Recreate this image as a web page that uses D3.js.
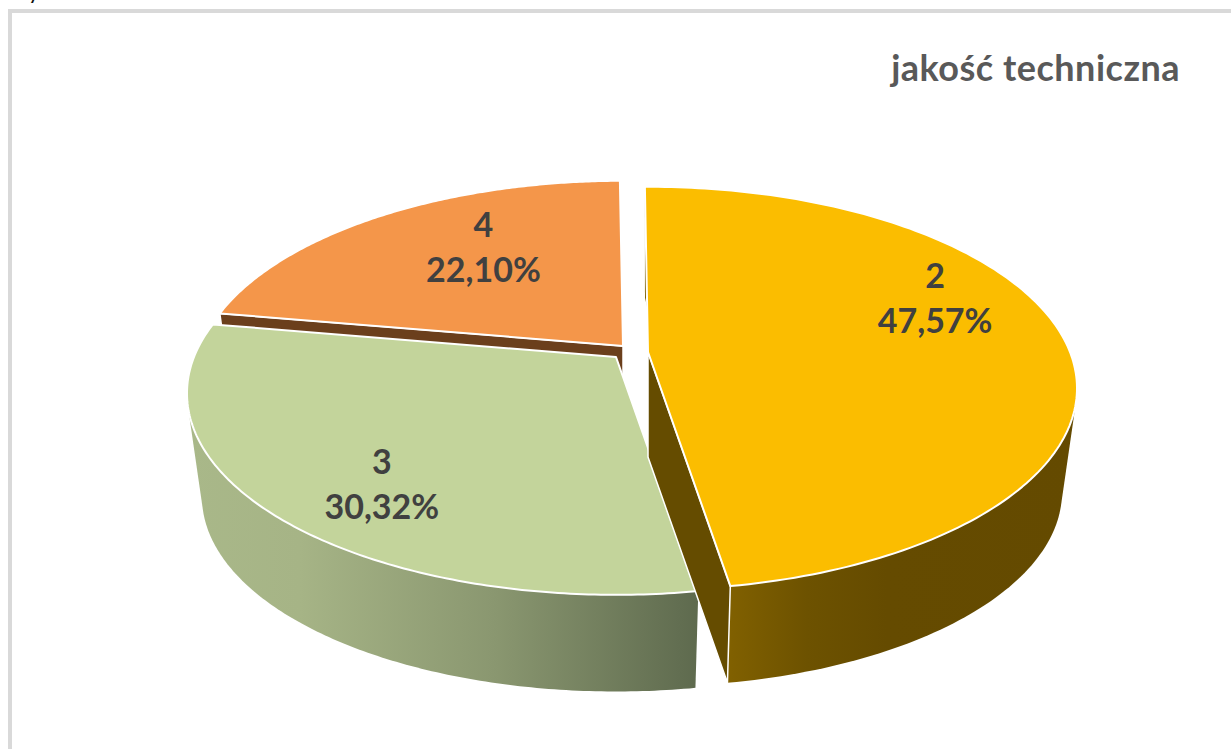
<!DOCTYPE html>
<html><head><meta charset="utf-8">
<script src="https://cdnjs.cloudflare.com/ajax/libs/d3/7.8.5/d3.min.js"></script>
<style>html,body{margin:0;padding:0;background:#fff;overflow:hidden}svg{display:block}</style>
</head><body>
<svg id="c" width="1231" height="749"></svg>
<script>
const categories = ["2", "3", "4"];
const values = [47.57, 30.32, 22.10];
const valueLabels = ["47,57%", "30,32%", "22,10%"];
const titleText = "jakość techniczna";
const topColors = ["#fbbd00", "#c3d49b", "#f4964a"];
const wallStops = [
  [[0, "#806000"], [0.22, "#6d5200"], [0.45, "#654b00"], [1, "#644a00"]],
  [[0, "#a9b889"], [0.22, "#a6b486"], [0.6, "#8a9770"], [1, "#5e6a4e"]],
  [[0, "#6b3f1c"], [1, "#6b3f1c"]]
];
const innerWall = ["#654c00", "#5e6a4e", "#6b3f1c"];

// layout of each slice (separate from data)
const apex = [[648, 352], [616, 357], [623, 346]];
const labelR = [0.69, 0.71, 0.55];
const labelLift = [-41, 22, -21];

const W = 1231, H = 749;
const R = 422, RY = 195, K = 0.18, DEPTH = 105, SHRINK = 0.965;
const svg = d3.select("#c");
const defs = svg.append("defs");

svg.append("rect").attr("x", 10).attr("y", 11).attr("width", W + 20).attr("height", H + 20)
  .attr("fill", "#fff").attr("stroke", "#d9d9d9").attr("stroke-width", 4);
svg.append("text").attr("x", 29).attr("y", 0).attr("font-family", "Lato").attr("font-weight", 700)
  .attr("font-size", 17).attr("fill", "#111").text("y");

const startA = -0.5 * Math.PI / 180;
const pie = d3.pie().sort(null).value(d => d).startAngle(startA).endAngle(startA + 2 * Math.PI);
const arcs = pie(values);

function proj(i, a, r = 1) {
  const u = r * Math.sin(a), v = -r * Math.cos(a), w = 1 - K * v;
  return [apex[i][0] + R * u / w, apex[i][1] + RY * v / w];
}
function low(i, p) {
  return [apex[i][0] + SHRINK * (p[0] - apex[i][0]), apex[i][1] + DEPTH + SHRINK * (p[1] - apex[i][1])];
}
const line = d3.line();
function rim(i, d) {
  const n = 160, s = d3.scaleLinear().domain([0, n]).range([d.startAngle, d.endAngle]);
  return d3.range(n + 1).map(t => proj(i, s(t)));
}

arcs.forEach((d, i) => {
  const g = defs.append("linearGradient").attr("id", "wall" + i).attr("gradientUnits", "userSpaceOnUse");
  const pts = rim(i, d);
  const front = pts.filter(p => p[1] > apex[i][1]);
  const e = d3.extent(front.length ? front : pts, p => p[0]);
  g.attr("x1", e[0]).attr("x2", e[1]).attr("y1", 0).attr("y2", 0);
  wallStops[i].forEach(s => g.append("stop").attr("offset", s[0]).attr("stop-color", s[1]));
});

// painter's order: back slice first, the exploded yellow slice last
[2, 1, 0].forEach(i => {
  const d = arcs[i], pts = rim(i, d), g = svg.append("g");
  // outer wall: hull of the upper and lower rims, so its silhouette runs tangent to both
  const hull = d3.polygonHull(pts.concat(pts.map(p => low(i, p))));
  g.append("path").attr("d", line(hull) + "Z").attr("fill", `url(#wall${i})`);
  const edge = i === 0 ? pts[pts.length - 1] : pts[0];
  const c = proj(i, 0, 0);
  if (i !== 1) {
    g.append("path").attr("d", line([c, edge, low(i, edge), low(i, c)]) + "Z")
      .attr("fill", innerWall[i]).attr("stroke", "#fff").attr("stroke-width", 1.5);
  }
  g.append("path").attr("d", line([c].concat(pts)) + "Z")
    .attr("fill", topColors[i]).attr("stroke", "#fff").attr("stroke-width", 2).attr("stroke-linejoin", "round");
});

// labels
arcs.forEach((d, i) => {
  const mid = (d.startAngle + d.endAngle) / 2, p = proj(i, mid, labelR[i]);
  const t = svg.append("text").attr("text-anchor", "middle")
    .attr("font-family", "Lato").attr("font-weight", 700).attr("font-size", 34).attr("fill", "#404040");
  t.append("tspan").attr("x", p[0]).attr("y", p[1] + labelLift[i] - 12).text(categories[i]);
  t.append("tspan").attr("x", p[0]).attr("y", p[1] + labelLift[i] + 33).text(valueLabels[i]);
});

svg.append("text").attr("x", 1180).attr("y", 81).attr("text-anchor", "end")
  .attr("font-family", "Lato").attr("font-weight", 700).attr("font-size", 36).attr("letter-spacing", 0.5).attr("fill", "#595959")
  .text(titleText);
</script>
</body></html>
